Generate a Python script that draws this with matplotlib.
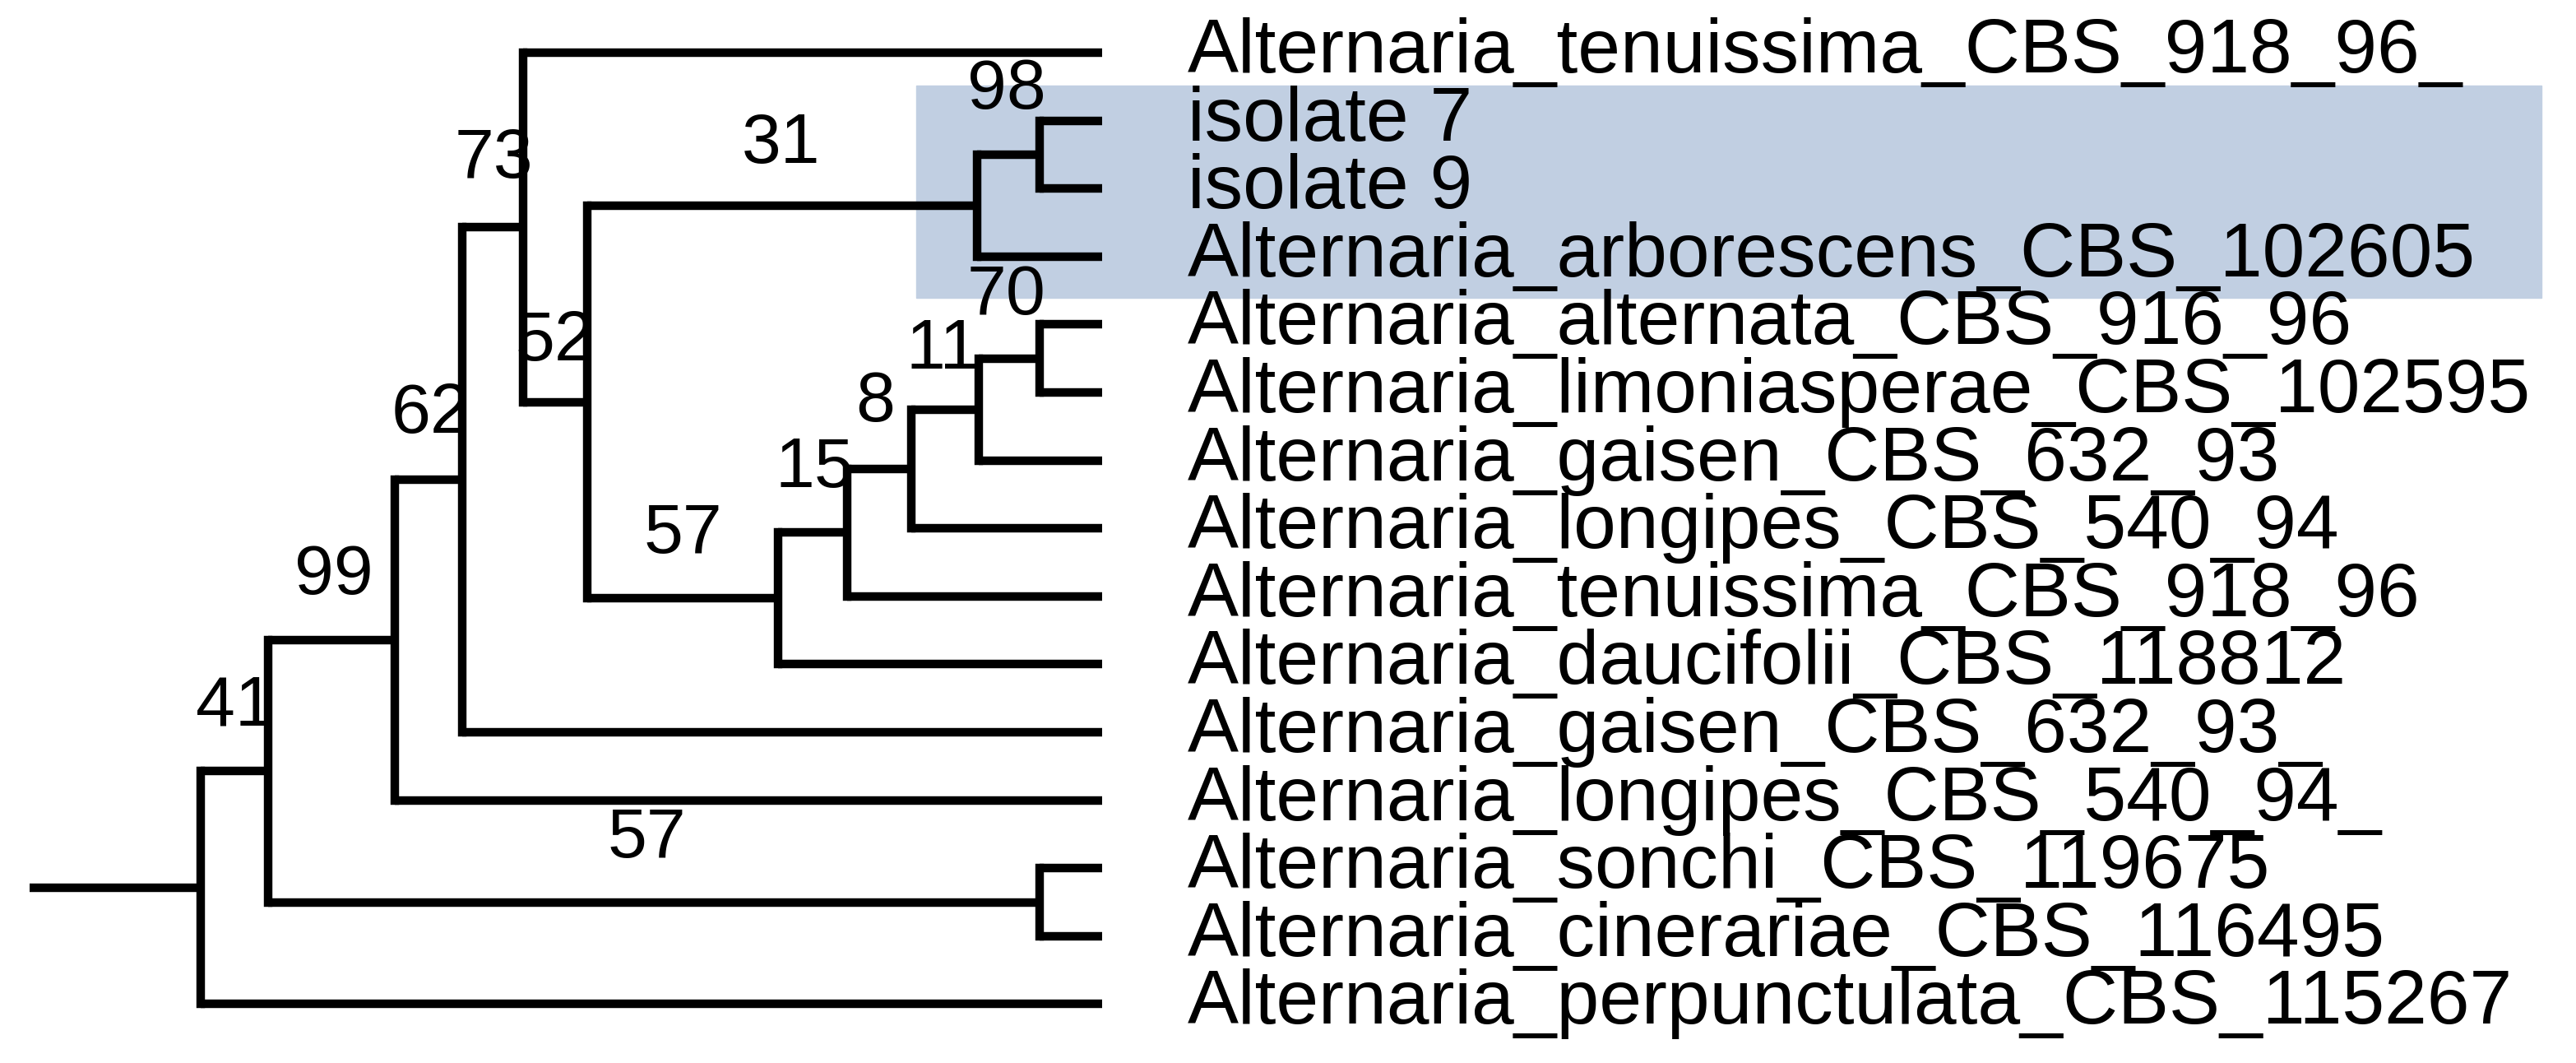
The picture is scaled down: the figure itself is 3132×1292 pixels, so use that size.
import matplotlib
matplotlib.use("Agg")
import matplotlib.pyplot as plt

# Leaf labels (top to bottom)
leaves = ["Alternaria_tenuissima_CBS_918_96_", "isolate 7", "isolate 9",
          "Alternaria_arborescens_CBS_102605", "Alternaria_alternata_CBS_916_96",
          "Alternaria_limoniasperae_CBS_102595", "Alternaria_gaisen_CBS_632_93",
          "Alternaria_longipes_CBS_540_94", "Alternaria_tenuissima_CBS_918_96",
          "Alternaria_daucifolii_CBS_118812", "Alternaria_gaisen_CBS_632_93_",
          "Alternaria_longipes_CBS_540_94_", "Alternaria_sonchi_CBS_119675",
          "Alternaria_cinerariae_CBS_116495", "Alternaria_perpunctulata_CBS_115267"]

# Internal nodes: name -> (depth, children)
node_depth = {"root": 122, "A": 163, "B": 240, "C": 281, "D": 318, "E": 357,
              "F": 594, "H": 632, "G": 473, "I": 515, "J": 554, "K": 595,
              "L": 632, "S": 632}
node_children = {"root": ["A", 14], "A": ["B", "S"], "B": ["C", 11],
                 "C": ["D", 10], "D": [0, "E"], "E": ["F", "G"],
                 "F": ["H", 3], "H": [1, 2], "G": ["I", 9], "I": ["J", 8],
                 "J": ["K", 7], "K": ["L", 6], "L": [4, 5], "S": [12, 13]}
leaf_depth = 670

# Support labels: (text, x, y)
support_text = ["73", "31", "98", "70", "52", "11", "8", "15", "57", "62", "99", "41", "57"]
support_x = [300, 475, 612, 612, 337, 573, 532, 495, 415, 262, 203, 143, 393]
support_y = [97, 88, 55, 180, 208, 213, 245, 285, 325, 252, 350, 430, 510]

Y0, DY = 32, 41.3

fig = plt.figure(figsize=(31.32, 12.92), dpi=100)
ax = fig.add_axes([0, 0, 1, 1])
ax.set_xlim(0, 1566)
ax.set_ylim(646, 0)
ax.axis("off")

ax.add_patch(plt.Rectangle((557, 52), 988, 129, color="#c1cfe2", zorder=0))

lw = 7.5
def draw(n):
    if isinstance(n, int):
        return Y0 + n * DY, leaf_depth
    x = node_depth[n]
    ys = []
    for c in node_children[n]:
        cy, cx = draw(c)
        ax.plot([x, cx], [cy, cy], color="black", lw=lw, solid_capstyle="butt", zorder=2)
        ys.append(cy)
    ax.plot([x, x], [min(ys), max(ys)], color="black", lw=lw, solid_capstyle="projecting", zorder=2)
    return (min(ys) + max(ys)) / 2, x

ry, rx = draw("root")
ax.plot([18, rx], [ry, ry], color="black", lw=lw, solid_capstyle="butt")

for i, name in enumerate(leaves):
    ax.text(722, Y0 + i * DY, name, fontsize=67, va="center", ha="left",
            family="Liberation Sans")
for t, x, y in zip(support_text, support_x, support_y):
    ax.text(x, y, t, fontsize=62, va="center", ha="center", family="Liberation Sans")

fig.savefig("out.png", dpi=100)
